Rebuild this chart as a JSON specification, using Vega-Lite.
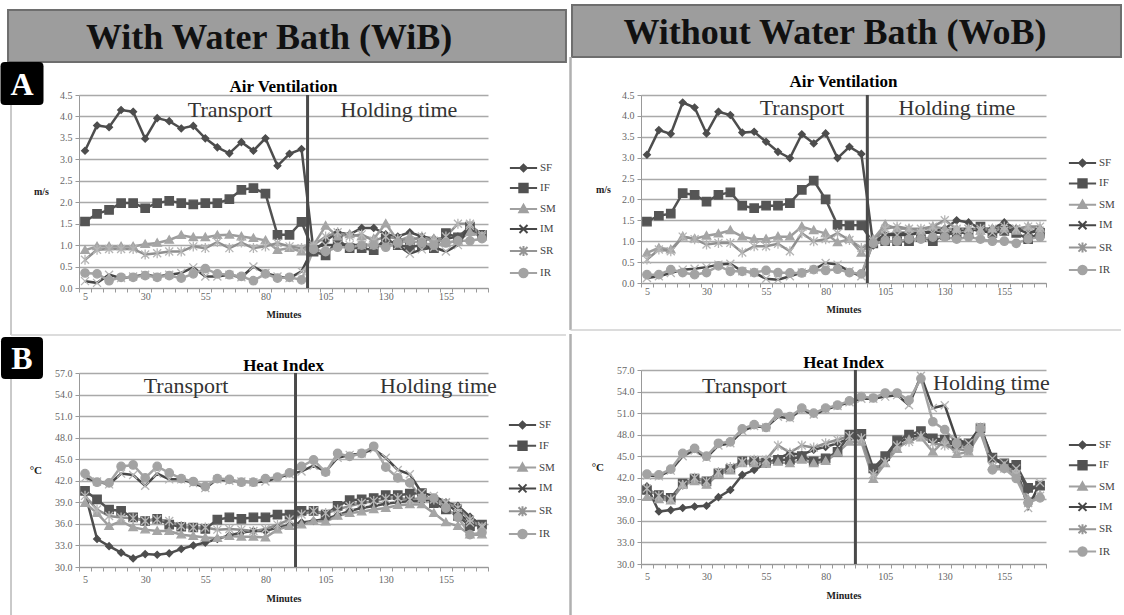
{
  "$schema": "https://vega.github.io/schema/vega-lite/v6.json",
  "padding": {"left": 0, "top": 4, "right": 0, "bottom": 0},
  "background": "white",
  "config": {"view": {"stroke": null}, "font": "Liberation Serif", "axis": {"labelOverlap": false}},
  "datasets": {
    "av_wib": [
      {"m":5,"SF":3.20,"IF":1.55,"SM":0.88,"IM":0.16,"SR":0.66,"IR":0.35},
      {"m":10,"SF":3.79,"IF":1.73,"SM":0.97,"IM":0.12,"SR":0.89,"IR":0.33},
      {"m":15,"SF":3.75,"IF":1.82,"SM":0.97,"IM":0.31,"SR":0.91,"IR":0.17},
      {"m":20,"SF":4.15,"IF":1.98,"SM":0.97,"IM":0.23,"SR":0.91,"IR":0.25},
      {"m":25,"SF":4.11,"IF":1.98,"SM":0.97,"IM":0.27,"SR":0.91,"IR":0.25},
      {"m":30,"SF":3.48,"IF":1.86,"SM":1.02,"IM":0.31,"SR":0.78,"IR":0.29},
      {"m":35,"SF":3.96,"IF":1.98,"SM":1.05,"IM":0.27,"SR":0.81,"IR":0.25},
      {"m":40,"SF":3.89,"IF":2.03,"SM":1.12,"IM":0.31,"SR":0.85,"IR":0.29},
      {"m":45,"SF":3.72,"IF":1.98,"SM":1.23,"IM":0.35,"SR":0.85,"IR":0.23},
      {"m":50,"SF":3.78,"IF":1.95,"SM":1.18,"IM":0.48,"SR":0.97,"IR":0.33},
      {"m":55,"SF":3.49,"IF":1.98,"SM":1.18,"IM":0.27,"SR":0.93,"IR":0.45},
      {"m":60,"SF":3.28,"IF":1.98,"SM":1.23,"IM":0.27,"SR":1.07,"IR":0.33},
      {"m":65,"SF":3.14,"IF":2.07,"SM":1.24,"IM":0.31,"SR":0.93,"IR":0.31},
      {"m":70,"SF":3.40,"IF":2.29,"SM":1.20,"IM":0.25,"SR":1.06,"IR":0.27},
      {"m":75,"SF":3.20,"IF":2.33,"SM":1.16,"IM":0.50,"SR":0.93,"IR":0.17},
      {"m":80,"SF":3.49,"IF":2.20,"SM":1.11,"IM":0.35,"SR":0.97,"IR":0.33},
      {"m":85,"SF":2.85,"IF":1.24,"SM":0.88,"IM":0.27,"SR":1.05,"IR":0.23},
      {"m":90,"SF":3.13,"IF":1.24,"SM":0.93,"IM":0.23,"SR":0.97,"IR":0.25},
      {"m":95,"SF":3.24,"IF":1.54,"SM":0.85,"IM":0.39,"SR":0.93,"IR":0.19},
      {"m":100,"SF":0.85,"IF":0.85,"SM":1.00,"IM":0.95,"SR":1.00,"IR":0.90},
      {"m":105,"SF":1.10,"IF":0.76,"SM":1.45,"IM":1.00,"SR":1.20,"IR":0.85},
      {"m":110,"SF":1.30,"IF":1.12,"SM":1.20,"IM":1.00,"SR":1.30,"IR":0.95},
      {"m":115,"SF":1.25,"IF":0.93,"SM":1.25,"IM":1.00,"SR":1.20,"IR":0.95},
      {"m":120,"SF":1.40,"IF":0.93,"SM":1.20,"IM":1.00,"SR":1.25,"IR":1.00},
      {"m":125,"SF":1.40,"IF":0.88,"SM":1.15,"IM":1.00,"SR":1.10,"IR":1.00},
      {"m":130,"SF":1.25,"IF":1.15,"SM":1.50,"IM":1.00,"SR":1.20,"IR":0.95},
      {"m":135,"SF":1.20,"IF":1.00,"SM":1.10,"IM":1.00,"SR":1.15,"IR":1.05},
      {"m":140,"SF":1.30,"IF":0.95,"SM":1.20,"IM":0.80,"SR":1.10,"IR":1.10},
      {"m":145,"SF":1.20,"IF":1.00,"SM":1.10,"IM":0.90,"SR":1.20,"IR":1.05},
      {"m":150,"SF":1.15,"IF":0.93,"SM":1.15,"IM":0.95,"SR":1.10,"IR":1.00},
      {"m":155,"SF":1.15,"IF":1.28,"SM":1.05,"IM":0.85,"SR":1.20,"IR":1.05},
      {"m":160,"SF":1.20,"IF":1.18,"SM":1.10,"IM":1.00,"SR":1.50,"IR":1.10},
      {"m":165,"SF":1.35,"IF":1.43,"SM":1.30,"IM":1.45,"SR":1.50,"IR":1.10},
      {"m":170,"SF":1.20,"IF":1.24,"SM":1.20,"IM":1.25,"SR":1.20,"IR":1.15}
    ],
    "av_wob": [
      {"m":5,"SF":3.07,"IF":1.47,"SM":0.72,"IM":0.12,"SR":0.56,"IR":0.20},
      {"m":10,"SF":3.66,"IF":1.61,"SM":0.84,"IM":0.16,"SR":0.80,"IR":0.20},
      {"m":15,"SF":3.57,"IF":1.66,"SM":0.80,"IM":0.24,"SR":0.76,"IR":0.32},
      {"m":20,"SF":4.32,"IF":2.15,"SM":1.11,"IM":0.32,"SR":1.11,"IR":0.25},
      {"m":25,"SF":4.20,"IF":2.11,"SM":1.06,"IM":0.34,"SR":1.05,"IR":0.20},
      {"m":30,"SF":3.58,"IF":1.95,"SM":1.13,"IM":0.38,"SR":0.92,"IR":0.25},
      {"m":35,"SF":4.10,"IF":2.11,"SM":1.18,"IM":0.44,"SR":0.96,"IR":0.41},
      {"m":40,"SF":4.02,"IF":2.17,"SM":1.26,"IM":0.46,"SR":0.96,"IR":0.28},
      {"m":45,"SF":3.60,"IF":1.85,"SM":1.11,"IM":0.28,"SR":0.73,"IR":0.28},
      {"m":50,"SF":3.62,"IF":1.79,"SM":1.05,"IM":0.25,"SR":0.88,"IR":0.25},
      {"m":55,"SF":3.38,"IF":1.85,"SM":1.05,"IM":0.10,"SR":0.88,"IR":0.30},
      {"m":60,"SF":3.14,"IF":1.85,"SM":1.11,"IM":0.08,"SR":0.94,"IR":0.25},
      {"m":65,"SF":2.99,"IF":1.91,"SM":1.11,"IM":0.16,"SR":0.76,"IR":0.24},
      {"m":70,"SF":3.56,"IF":2.23,"SM":1.35,"IM":0.25,"SR":1.19,"IR":0.24},
      {"m":75,"SF":3.34,"IF":2.45,"SM":1.26,"IM":0.32,"SR":1.00,"IR":0.32},
      {"m":80,"SF":3.58,"IF":2.00,"SM":1.19,"IM":0.48,"SR":1.05,"IR":0.30},
      {"m":85,"SF":2.99,"IF":1.39,"SM":0.97,"IM":0.44,"SR":1.19,"IR":0.33},
      {"m":90,"SF":3.26,"IF":1.38,"SM":1.05,"IM":0.28,"SR":1.03,"IR":0.25},
      {"m":95,"SF":3.09,"IF":1.38,"SM":0.72,"IM":0.16,"SR":0.84,"IR":0.22},
      {"m":100,"SF":0.90,"IF":0.95,"SM":1.05,"IM":1.00,"SR":1.00,"IR":0.95},
      {"m":105,"SF":1.15,"IF":1.00,"SM":1.40,"IM":1.15,"SR":1.30,"IR":1.00},
      {"m":110,"SF":1.20,"IF":1.00,"SM":1.30,"IM":1.15,"SR":1.35,"IR":1.00},
      {"m":115,"SF":1.20,"IF":1.00,"SM":1.30,"IM":1.15,"SR":1.30,"IR":1.05},
      {"m":120,"SF":1.20,"IF":1.10,"SM":1.25,"IM":1.20,"SR":1.30,"IR":1.05},
      {"m":125,"SF":1.25,"IF":1.00,"SM":1.35,"IM":1.20,"SR":1.35,"IR":1.10},
      {"m":130,"SF":1.30,"IF":1.15,"SM":1.30,"IM":1.20,"SR":1.50,"IR":1.10},
      {"m":135,"SF":1.50,"IF":1.20,"SM":1.30,"IM":1.25,"SR":1.30,"IR":1.05},
      {"m":140,"SF":1.45,"IF":1.20,"SM":1.30,"IM":1.30,"SR":1.30,"IR":1.10},
      {"m":145,"SF":1.30,"IF":1.35,"SM":1.25,"IM":1.25,"SR":1.30,"IR":1.05},
      {"m":150,"SF":1.30,"IF":1.20,"SM":1.30,"IM":1.20,"SR":1.30,"IR":1.00},
      {"m":155,"SF":1.45,"IF":1.25,"SM":1.30,"IM":1.25,"SR":1.35,"IR":1.00},
      {"m":160,"SF":1.30,"IF":1.20,"SM":1.25,"IM":1.30,"SR":1.30,"IR":0.95},
      {"m":165,"SF":1.20,"IF":1.05,"SM":1.35,"IM":1.20,"SR":1.35,"IR":1.05},
      {"m":170,"SF":1.30,"IF":1.20,"SM":1.30,"IM":1.25,"SR":1.35,"IR":1.10}
    ],
    "hi_wib": [
      {"m":5,"SF":40.3,"IF":40.6,"SM":38.9,"IM":42.4,"SR":39.9,"IR":43.0},
      {"m":10,"SF":33.9,"IF":39.4,"SM":37.5,"IM":41.9,"SR":38.0,"IR":41.8},
      {"m":15,"SF":32.9,"IF":38.0,"SM":35.7,"IM":41.5,"SR":37.1,"IR":41.7},
      {"m":20,"SF":32.0,"IF":37.8,"SM":36.4,"IM":43.0,"SR":36.9,"IR":44.0},
      {"m":25,"SF":31.2,"IF":36.9,"SM":35.5,"IM":42.8,"SR":36.8,"IR":44.2},
      {"m":30,"SF":31.8,"IF":36.4,"SM":35.2,"IM":41.3,"SR":36.4,"IR":42.4},
      {"m":35,"SF":31.7,"IF":36.7,"SM":35.0,"IM":43.0,"SR":36.6,"IR":44.0},
      {"m":40,"SF":31.9,"IF":35.9,"SM":35.0,"IM":42.2,"SR":36.4,"IR":43.1},
      {"m":45,"SF":32.5,"IF":35.6,"SM":34.5,"IM":42.2,"SR":35.7,"IR":42.3},
      {"m":50,"SF":33.0,"IF":35.5,"SM":34.3,"IM":41.7,"SR":35.5,"IR":41.9},
      {"m":55,"SF":33.4,"IF":35.3,"SM":34.1,"IM":41.0,"SR":35.5,"IR":41.2},
      {"m":60,"SF":33.9,"IF":36.6,"SM":34.0,"IM":42.2,"SR":35.2,"IR":42.3},
      {"m":65,"SF":34.4,"IF":36.9,"SM":34.3,"IM":42.0,"SR":35.3,"IR":42.2},
      {"m":70,"SF":34.8,"IF":36.7,"SM":34.2,"IM":41.9,"SR":35.2,"IR":41.8},
      {"m":75,"SF":35.0,"IF":36.9,"SM":34.2,"IM":41.8,"SR":35.0,"IR":41.8},
      {"m":80,"SF":35.0,"IF":36.9,"SM":34.1,"IM":41.9,"SR":35.3,"IR":42.3},
      {"m":85,"SF":35.5,"IF":37.3,"SM":35.2,"IM":42.4,"SR":35.9,"IR":42.5},
      {"m":90,"SF":35.8,"IF":37.3,"SM":35.7,"IM":42.9,"SR":36.6,"IR":43.1},
      {"m":95,"SF":36.2,"IF":37.8,"SM":35.9,"IM":43.3,"SR":37.3,"IR":44.0},
      {"m":100,"SF":36.4,"IF":37.8,"SM":36.4,"IM":44.1,"SR":37.8,"IR":44.9},
      {"m":105,"SF":36.7,"IF":37.3,"SM":36.3,"IM":43.3,"SR":37.5,"IR":43.2},
      {"m":110,"SF":37.2,"IF":38.5,"SM":37.1,"IM":45.2,"SR":38.0,"IR":45.8},
      {"m":115,"SF":37.8,"IF":39.3,"SM":37.5,"IM":45.6,"SR":38.5,"IR":45.4},
      {"m":120,"SF":38.2,"IF":39.4,"SM":37.7,"IM":45.8,"SR":38.9,"IR":45.8},
      {"m":125,"SF":38.5,"IF":39.6,"SM":38.0,"IM":46.4,"SR":39.2,"IR":46.8},
      {"m":130,"SF":38.8,"IF":40.0,"SM":38.2,"IM":45.2,"SR":39.5,"IR":43.9},
      {"m":135,"SF":39.0,"IF":40.0,"SM":38.6,"IM":43.5,"SR":39.6,"IR":42.4},
      {"m":140,"SF":39.2,"IF":40.2,"SM":38.7,"IM":42.9,"SR":39.4,"IR":41.7},
      {"m":145,"SF":39.2,"IF":40.3,"SM":38.7,"IM":40.3,"SR":39.6,"IR":39.6},
      {"m":150,"SF":39.4,"IF":38.9,"SM":37.5,"IM":39.9,"SR":39.4,"IR":39.6},
      {"m":155,"SF":39.0,"IF":38.0,"SM":36.2,"IM":39.0,"SR":38.9,"IR":38.2},
      {"m":160,"SF":38.5,"IF":37.1,"SM":35.7,"IM":37.5,"SR":38.2,"IR":36.9},
      {"m":165,"SF":37.0,"IF":35.7,"SM":34.5,"IM":36.2,"SR":36.6,"IR":34.5},
      {"m":170,"SF":35.8,"IF":35.9,"SM":34.5,"IM":35.7,"SR":35.5,"IR":34.8}
    ],
    "hi_wob": [
      {"m":5,"SF":40.8,"IF":40.3,"SM":39.3,"IM":42.3,"SR":40.5,"IR":42.5},
      {"m":10,"SF":37.3,"IF":39.6,"SM":39.0,"IM":42.2,"SR":39.5,"IR":42.4},
      {"m":15,"SF":37.5,"IF":39.2,"SM":38.8,"IM":43.0,"SR":39.0,"IR":43.2},
      {"m":20,"SF":37.8,"IF":41.2,"SM":41.0,"IM":45.0,"SR":41.0,"IR":45.4},
      {"m":25,"SF":38.0,"IF":41.9,"SM":41.5,"IM":45.8,"SR":42.0,"IR":46.1},
      {"m":30,"SF":38.1,"IF":41.5,"SM":41.0,"IM":44.8,"SR":41.5,"IR":45.0},
      {"m":35,"SF":39.3,"IF":42.6,"SM":42.5,"IM":46.5,"SR":42.8,"IR":46.8},
      {"m":40,"SF":40.3,"IF":43.2,"SM":43.0,"IM":46.8,"SR":43.5,"IR":47.0},
      {"m":45,"SF":42.4,"IF":44.3,"SM":44.0,"IM":48.5,"SR":44.2,"IR":48.8},
      {"m":50,"SF":43.1,"IF":44.3,"SM":44.0,"IM":49.2,"SR":44.5,"IR":49.4},
      {"m":55,"SF":44.0,"IF":44.1,"SM":44.0,"IM":49.0,"SR":44.5,"IR":49.0},
      {"m":60,"SF":44.7,"IF":44.5,"SM":44.2,"IM":50.5,"SR":46.5,"IR":51.0},
      {"m":65,"SF":45.4,"IF":44.5,"SM":44.0,"IM":50.3,"SR":45.5,"IR":50.5},
      {"m":70,"SF":45.2,"IF":45.0,"SM":44.5,"IM":51.5,"SR":46.5,"IR":51.7},
      {"m":75,"SF":45.9,"IF":44.3,"SM":44.0,"IM":50.8,"SR":46.2,"IR":51.0},
      {"m":80,"SF":46.3,"IF":44.7,"SM":44.3,"IM":51.5,"SR":46.8,"IR":51.7},
      {"m":85,"SF":46.8,"IF":45.6,"SM":45.5,"IM":52.0,"SR":47.3,"IR":52.1},
      {"m":90,"SF":47.5,"IF":48.0,"SM":47.0,"IM":52.5,"SR":47.8,"IR":52.7},
      {"m":95,"SF":47.5,"IF":48.1,"SM":47.0,"IM":53.0,"SR":47.5,"IR":53.3},
      {"m":100,"SF":43.0,"IF":43.3,"SM":41.8,"IM":53.0,"SR":42.5,"IR":53.1},
      {"m":105,"SF":44.5,"IF":45.0,"SM":44.0,"IM":53.3,"SR":44.2,"IR":53.8},
      {"m":110,"SF":46.8,"IF":47.2,"SM":46.0,"IM":53.5,"SR":46.5,"IR":53.8},
      {"m":115,"SF":47.6,"IF":48.0,"SM":47.3,"IM":52.1,"SR":47.0,"IR":52.8},
      {"m":120,"SF":48.0,"IF":48.5,"SM":47.6,"IM":56.2,"SR":47.8,"IR":55.8},
      {"m":125,"SF":47.3,"IF":47.5,"SM":45.6,"IM":51.7,"SR":46.8,"IR":49.8},
      {"m":130,"SF":47.0,"IF":47.3,"SM":47.2,"IM":52.1,"SR":46.5,"IR":48.7},
      {"m":135,"SF":46.5,"IF":46.8,"SM":45.3,"IM":47.3,"SR":46.0,"IR":46.8},
      {"m":140,"SF":46.5,"IF":46.8,"SM":45.6,"IM":46.8,"SR":45.8,"IR":45.9},
      {"m":145,"SF":48.6,"IF":48.9,"SM":48.3,"IM":49.1,"SR":49.0,"IR":48.9},
      {"m":150,"SF":44.7,"IF":44.8,"SM":43.6,"IM":44.7,"SR":43.5,"IR":43.1},
      {"m":155,"SF":43.8,"IF":44.0,"SM":43.6,"IM":44.0,"SR":43.3,"IR":43.3},
      {"m":160,"SF":43.3,"IF":43.8,"SM":42.8,"IM":43.3,"SR":42.5,"IR":41.9},
      {"m":165,"SF":40.3,"IF":40.6,"SM":39.0,"IM":37.8,"SR":38.5,"IR":38.5},
      {"m":170,"SF":40.8,"IF":40.9,"SM":39.6,"IM":41.3,"SR":39.5,"IR":39.2}
    ]
  },
  "concat": [
    {
      "concat": [
        {
          "width": 409, "height": 193,
          "resolve": {"scale": {"shape": "independent", "fill": "independent", "stroke": "independent"}},
          "layer": [
            {
              "data": {"name": "av_wib"},
              "transform": [{"fold": ["SF", "IF", "SM", "IM", "SR", "IR"], "as": ["series", "v"]}],
              "mark": {"type": "line", "strokeWidth": 2.5},
              "encoding": {
                "x": {"field": "m", "type": "quantitative", "scale": {"domain": [2.5, 172.5], "nice": false, "zero": false},
                  "axis": {"values": [2.5,7.5,12.5,17.5,22.5,27.5,32.5,37.5,42.5,47.5,52.5,57.5,62.5,67.5,72.5,77.5,82.5,87.5,92.5,97.5,102.5,107.5,112.5,117.5,122.5,127.5,132.5,137.5,142.5,147.5,152.5,157.5,162.5,167.5,172.5], "tickCount": 35,
                    "labelExpr": "(datum.value - 2.5) % 25 === 0 && datum.value < 170 ? format(datum.value + 2.5, 'd') : ''",
                    "labelOffset": 6, "labelOverlap": false, "labelFlush": false, "grid": false, "tickSize": 4, "tickColor": "#999999", "domainColor": "#999999",
                    "labelColor": "#666666", "labelFontSize": 10, "labelPadding": -1, "title": "Minutes", "titleFontWeight": "bold", "titleFontSize": 10, "titleColor": "#222222", "titlePadding": 8}},
                "y": {"field": "v", "type": "quantitative", "scale": {"domain": [0, 4.5], "nice": false, "zero": false},
                  "axis": {"values": [0,0.5,1,1.5,2,2.5,3,3.5,4,4.5], "tickCount": 10, "format": ".1f", "labelOverlap": false, "grid": true, "gridColor": "#a9a9a9", "gridWidth": 1.3, "gridOpacity": 1,
                    "tickSize": 4, "tickColor": "#999999", "domainColor": "#999999", "labelColor": "#666666", "labelFontSize": 10, "labelPadding": 3,
                    "title": "m/s", "titleAngle": 0, "titleAlign": "right", "titleBaseline": "middle", "titlePadding": 11, "titleFontWeight": "bold", "titleFontSize": 10, "titleColor": "#222222"}},
                "color": {"field": "series", "type": "nominal", "scale": {"domain": ["SF", "IF", "SM", "IM", "SR", "IR"], "range": ["#4d4d4d", "#525252", "#9c9c9c", "#474747", "#8f8f8f", "#a3a3a3"]}, "legend": null}
              }
            },
            {
              "data": {"name": "av_wib"},
              "transform": [{"fold": ["SF", "IF", "SM", "IM", "SR", "IR"], "as": ["series", "v"]}],
              "mark": {"type": "point", "filled": true, "size": 64, "opacity": 1, "strokeWidth": 1.3},
              "encoding": {
                "x": {"field": "m", "type": "quantitative"},
                "y": {"field": "v", "type": "quantitative"},
                "shape": {"field": "series", "type": "nominal", "scale": {"domain": ["SF", "IF", "SM", "IM", "SR", "IR"], "range": ["M0,-0.85L0.85,0L0,0.85L-0.85,0Z", "M-1.05,-1.05L1.05,-1.05L1.05,1.05L-1.05,1.05Z", "M0,-1.05L1.05,0.8L-1.05,0.8Z", "M-1,-1L1,1M-1,1L1,-1", "M-1,-1L1,1M-1,1L1,-1M0,-1.25L0,1.25", "M1.05,0A1.05,1.05 0 1,1 -1.05,0A1.05,1.05 0 1,1 1.05,0Z"]}, "legend": null},
                "fill": {"field": "series", "type": "nominal", "scale": {"domain": ["SF", "IF", "SM", "IM", "SR", "IR"], "range": ["#4d4d4d", "#555555", "#a5a5a5", "#b5b5b5", "#b5b5b5", "#a3a3a3"]}, "legend": null},
                "stroke": {"field": "series", "type": "nominal", "scale": {"domain": ["SF", "IF", "SM", "IM", "SR", "IR"], "range": ["#4d4d4d", "#555555", "#a5a5a5", "#b5b5b5", "#b5b5b5", "#a3a3a3"]}, "legend": null}
              }
            },
            {
              "data": {"values": []},
              "mark": {"type": "point", "filled": true, "size": 64, "opacity": 1},
              "encoding": {
                "shape": {"field": "series", "type": "nominal", "scale": {"domain": ["SF", "IF", "SM", "IM", "SR", "IR"], "range": ["M-3.4,0L3.4,0M0,-0.85L0.85,0L0,0.85L-0.85,0Z", "M-3.4,0L3.4,0M-1.05,-1.05L1.05,-1.05L1.05,1.05L-1.05,1.05Z", "M-3.4,0L3.4,0M0,-1.05L1.05,0.8L-1.05,0.8Z", "M-3.4,0L3.4,0M-1,-1L1,1M-1,1L1,-1", "M-3.4,0L3.4,0M-1,-1L1,1M-1,1L1,-1M0,-1.25L0,1.25", "M-3.4,0L3.4,0M1.05,0A1.05,1.05 0 1,1 -1.05,0A1.05,1.05 0 1,1 1.05,0Z"]},
                  "legend": {"title": null, "orient": "none", "legendX": 439, "legendY": 67.5, "padding": 0, "symbolSize": 64, "symbolStrokeWidth": 2, "labelFont": "Liberation Serif", "labelFontSize": 11, "labelColor": "#444444", "labelOffset": 11, "rowPadding": 4}},
                "fill": {"field": "series", "type": "nominal", "scale": {"domain": ["SF", "IF", "SM", "IM", "SR", "IR"], "range": ["#4d4d4d", "#525252", "#a0a0a0", "#474747", "#959595", "#a3a3a3"]}},
                "stroke": {"field": "series", "type": "nominal", "scale": {"domain": ["SF", "IF", "SM", "IM", "SR", "IR"], "range": ["#4d4d4d", "#525252", "#a0a0a0", "#474747", "#959595", "#a3a3a3"]}}
              }
            },
            {"data": {"values": [{}]}, "mark": {"type": "rule", "color": "#4a4a4a", "strokeWidth": 3}, "encoding": {"x": {"datum": 97.5, "type": "quantitative"}}},
            {"data": {"values": [{}]}, "mark": {"type": "rect", "color": "#9d9d9d", "stroke": "#6e6e6e", "strokeWidth": 2, "clip": false}, "encoding": {"x": {"datum": -27.0, "type": "quantitative"}, "x2": {"datum": 204.9}, "y": {"datum": 6.482, "type": "quantitative"}, "y2": {"datum": 5.269}}},
            {"data": {"values": [{}]}, "mark": {"type": "text", "text": "With Water Bath (WiB)", "font": "Liberation Serif", "fontSize": 36, "fontWeight": "bold", "color": "#111111", "align": "center", "baseline": "middle", "clip": false}, "encoding": {"x": {"datum": 81.5, "type": "quantitative"}, "y": {"datum": 5.83, "type": "quantitative"}}},
            {"data": {"values": [{}]}, "mark": {"type": "text", "text": "Air Ventilation", "font": "Liberation Serif", "fontSize": 17, "fontWeight": "bold", "color": "#000000", "align": "center", "baseline": "alphabetic", "clip": false}, "encoding": {"x": {"datum": 87.5, "type": "quantitative"}, "y": {"datum": 4.57, "type": "quantitative"}}},
            {"data": {"values": [{}]}, "mark": {"type": "rule", "color": "#b8b8b8", "strokeWidth": 1.5, "clip": false}, "encoding": {"x": {"datum": -25.76, "type": "quantitative"}, "y": {"datum": 5.25, "type": "quantitative"}, "y2": {"datum": -1.096}}},
            {"data": {"values": [{}]}, "mark": {"type": "rule", "color": "#d0d0d0", "strokeWidth": 1.5, "clip": false}, "encoding": {"x": {"datum": -25.76, "type": "quantitative"}, "x2": {"datum": 204.9}, "y": {"datum": -1.096, "type": "quantitative"}}},
            {"data": {"values": [{}]}, "mark": {"type": "text", "text": "Transport", "font": "Liberation Serif", "fontSize": 22, "color": "#333333", "align": "center", "baseline": "alphabetic"}, "encoding": {"x": {"datum": 65.3, "type": "quantitative"}, "y": {"datum": 3.99, "type": "quantitative"}}},
            {"data": {"values": [{}]}, "mark": {"type": "text", "text": "Holding time", "font": "Liberation Serif", "fontSize": 22, "color": "#333333", "align": "center", "baseline": "alphabetic"}, "encoding": {"x": {"datum": 135.5, "type": "quantitative"}, "y": {"datum": 3.99, "type": "quantitative"}}},
            {"data": {"values": [{}]}, "mark": {"type": "point", "shape": "M-0.8,-1L0.8,-1Q1,-1 1,-0.8L1,0.8Q1,1 0.8,1L-0.8,1Q-1,1 -1,0.8L-1,-0.8Q-1,-1 -0.8,-1Z", "size": 1849, "filled": true, "color": "#000000", "opacity": 1, "clip": false}, "encoding": {"x": {"datum": -21.19, "type": "quantitative"}, "y": {"datum": 4.768, "type": "quantitative"}}},
            {"data": {"values": [{}]}, "mark": {"type": "text", "text": "A", "font": "Liberation Serif", "fontSize": 32, "fontWeight": "bold", "color": "#ffffff", "align": "center", "baseline": "middle", "clip": false}, "encoding": {"x": {"datum": -21.19, "type": "quantitative"}, "y": {"datum": 4.74, "type": "quantitative"}}}
          ]
        },
        {
          "width": 409, "height": 194,
          "resolve": {"scale": {"shape": "independent", "fill": "independent", "stroke": "independent"}},
          "layer": [
            {
              "data": {"name": "hi_wib"},
              "transform": [{"fold": ["SF", "IF", "SM", "IM", "SR", "IR"], "as": ["series", "v"]}],
              "mark": {"type": "line", "strokeWidth": 2.5},
              "encoding": {
                "x": {"field": "m", "type": "quantitative", "scale": {"domain": [2.5, 172.5], "nice": false, "zero": false},
                  "axis": {"values": [2.5,7.5,12.5,17.5,22.5,27.5,32.5,37.5,42.5,47.5,52.5,57.5,62.5,67.5,72.5,77.5,82.5,87.5,92.5,97.5,102.5,107.5,112.5,117.5,122.5,127.5,132.5,137.5,142.5,147.5,152.5,157.5,162.5,167.5,172.5], "tickCount": 35,
                    "labelExpr": "(datum.value - 2.5) % 25 === 0 && datum.value < 170 ? format(datum.value + 2.5, 'd') : ''",
                    "labelOffset": 6, "labelOverlap": false, "labelFlush": false, "grid": false, "tickSize": 4, "tickColor": "#999999", "domainColor": "#999999",
                    "labelColor": "#666666", "labelFontSize": 10, "labelPadding": 3, "title": "Minutes", "titleFontWeight": "bold", "titleFontSize": 10, "titleColor": "#222222", "titlePadding": 9}},
                "y": {"field": "v", "type": "quantitative", "scale": {"domain": [30, 57], "nice": false, "zero": false},
                  "axis": {"values": [30,33,36,39,42,45,48,51,54,57], "tickCount": 10, "format": ".1f", "labelOverlap": false, "grid": true, "gridColor": "#a9a9a9", "gridWidth": 1.3, "gridOpacity": 1,
                    "tickSize": 4, "tickColor": "#999999", "domainColor": "#999999", "labelColor": "#666666", "labelFontSize": 10, "labelPadding": 3,
                    "title": "°C", "titleAngle": 0, "titleAlign": "right", "titleBaseline": "middle", "titlePadding": 13, "titleFontWeight": "bold", "titleFontSize": 11, "titleColor": "#222222"}},
                "color": {"field": "series", "type": "nominal", "scale": {"domain": ["SF", "IF", "SM", "IM", "SR", "IR"], "range": ["#4d4d4d", "#525252", "#9c9c9c", "#474747", "#8f8f8f", "#a3a3a3"]}, "legend": null}
              }
            },
            {
              "data": {"name": "hi_wib"},
              "transform": [{"fold": ["SF", "IF", "SM", "IM", "SR", "IR"], "as": ["series", "v"]}],
              "mark": {"type": "point", "filled": true, "size": 64, "opacity": 1, "strokeWidth": 1.3},
              "encoding": {
                "x": {"field": "m", "type": "quantitative"},
                "y": {"field": "v", "type": "quantitative"},
                "shape": {"field": "series", "type": "nominal", "scale": {"domain": ["SF", "IF", "SM", "IM", "SR", "IR"], "range": ["M0,-0.85L0.85,0L0,0.85L-0.85,0Z", "M-1.05,-1.05L1.05,-1.05L1.05,1.05L-1.05,1.05Z", "M0,-1.05L1.05,0.8L-1.05,0.8Z", "M-1,-1L1,1M-1,1L1,-1", "M-1,-1L1,1M-1,1L1,-1M0,-1.25L0,1.25", "M1.05,0A1.05,1.05 0 1,1 -1.05,0A1.05,1.05 0 1,1 1.05,0Z"]}, "legend": null},
                "fill": {"field": "series", "type": "nominal", "scale": {"domain": ["SF", "IF", "SM", "IM", "SR", "IR"], "range": ["#4d4d4d", "#555555", "#a5a5a5", "#b5b5b5", "#b5b5b5", "#a3a3a3"]}, "legend": null},
                "stroke": {"field": "series", "type": "nominal", "scale": {"domain": ["SF", "IF", "SM", "IM", "SR", "IR"], "range": ["#4d4d4d", "#555555", "#a5a5a5", "#b5b5b5", "#b5b5b5", "#a3a3a3"]}, "legend": null}
              }
            },
            {
              "data": {"values": []},
              "mark": {"type": "point", "filled": true, "size": 64, "opacity": 1},
              "encoding": {
                "shape": {"field": "series", "type": "nominal", "scale": {"domain": ["SF", "IF", "SM", "IM", "SR", "IR"], "range": ["M-3.4,0L3.4,0M0,-0.85L0.85,0L0,0.85L-0.85,0Z", "M-3.4,0L3.4,0M-1.05,-1.05L1.05,-1.05L1.05,1.05L-1.05,1.05Z", "M-3.4,0L3.4,0M0,-1.05L1.05,0.8L-1.05,0.8Z", "M-3.4,0L3.4,0M-1,-1L1,1M-1,1L1,-1", "M-3.4,0L3.4,0M-1,-1L1,1M-1,1L1,-1M0,-1.25L0,1.25", "M-3.4,0L3.4,0M1.05,0A1.05,1.05 0 1,1 -1.05,0A1.05,1.05 0 1,1 1.05,0Z"]},
                  "legend": {"title": null, "orient": "none", "legendX": 438, "legendY": 46.5, "padding": 0, "symbolSize": 64, "symbolStrokeWidth": 2, "labelFont": "Liberation Serif", "labelFontSize": 11, "labelColor": "#444444", "labelOffset": 11, "rowPadding": 4.8}},
                "fill": {"field": "series", "type": "nominal", "scale": {"domain": ["SF", "IF", "SM", "IM", "SR", "IR"], "range": ["#4d4d4d", "#525252", "#a0a0a0", "#474747", "#959595", "#a3a3a3"]}},
                "stroke": {"field": "series", "type": "nominal", "scale": {"domain": ["SF", "IF", "SM", "IM", "SR", "IR"], "range": ["#4d4d4d", "#525252", "#a0a0a0", "#474747", "#959595", "#a3a3a3"]}}
              }
            },
            {"data": {"values": [{}]}, "mark": {"type": "rule", "color": "#4a4a4a", "strokeWidth": 3}, "encoding": {"x": {"datum": 92.5, "type": "quantitative"}}},
            {"data": {"values": [{}]}, "mark": {"type": "text", "text": "Heat Index", "font": "Liberation Serif", "fontSize": 17, "fontWeight": "bold", "color": "#000000", "align": "center", "baseline": "alphabetic", "clip": false}, "encoding": {"x": {"datum": 87.5, "type": "quantitative"}, "y": {"datum": 57.28, "type": "quantitative"}}},
            {"data": {"values": [{}]}, "mark": {"type": "rule", "color": "#b8b8b8", "strokeWidth": 1.5, "clip": false}, "encoding": {"x": {"datum": -25.76, "type": "quantitative"}, "y": {"datum": 62.0, "type": "quantitative"}, "y2": {"datum": 22.7}}},
            {"data": {"values": [{}]}, "mark": {"type": "text", "text": "Transport", "font": "Liberation Serif", "fontSize": 22, "color": "#333333", "align": "center", "baseline": "alphabetic"}, "encoding": {"x": {"datum": 47.0, "type": "quantitative"}, "y": {"datum": 54.22, "type": "quantitative"}}},
            {"data": {"values": [{}]}, "mark": {"type": "text", "text": "Holding time", "font": "Liberation Serif", "fontSize": 22, "color": "#333333", "align": "center", "baseline": "alphabetic"}, "encoding": {"x": {"datum": 151.9, "type": "quantitative"}, "y": {"datum": 54.22, "type": "quantitative"}}},
            {"data": {"values": [{}]}, "mark": {"type": "point", "shape": "M-0.8,-1L0.8,-1Q1,-1 1,-0.8L1,0.8Q1,1 0.8,1L-0.8,1Q-1,1 -1,0.8L-1,-0.8Q-1,-1 -0.8,-1Z", "size": 1764, "filled": true, "color": "#000000", "opacity": 1, "clip": false}, "encoding": {"x": {"datum": -21.19, "type": "quantitative"}, "y": {"datum": 59.09, "type": "quantitative"}}},
            {"data": {"values": [{}]}, "mark": {"type": "text", "text": "B", "font": "Liberation Serif", "fontSize": 32, "fontWeight": "bold", "color": "#ffffff", "align": "center", "baseline": "middle", "clip": false}, "encoding": {"x": {"datum": -21.19, "type": "quantitative"}, "y": {"datum": 58.92, "type": "quantitative"}}}
          ]
        }
      ],
      "columns": 1, "align": "none", "spacing": 0
    },
    {
      "concat": [
        {
          "width": 405, "height": 188,
          "resolve": {"scale": {"shape": "independent", "fill": "independent", "stroke": "independent"}},
          "layer": [
            {
              "data": {"name": "av_wob"},
              "transform": [{"fold": ["SF", "IF", "SM", "IM", "SR", "IR"], "as": ["series", "v"]}],
              "mark": {"type": "line", "strokeWidth": 2.5},
              "encoding": {
                "x": {"field": "m", "type": "quantitative", "scale": {"domain": [2.5, 172.5], "nice": false, "zero": false},
                  "axis": {"values": [2.5,7.5,12.5,17.5,22.5,27.5,32.5,37.5,42.5,47.5,52.5,57.5,62.5,67.5,72.5,77.5,82.5,87.5,92.5,97.5,102.5,107.5,112.5,117.5,122.5,127.5,132.5,137.5,142.5,147.5,152.5,157.5,162.5,167.5,172.5], "tickCount": 35,
                    "labelExpr": "(datum.value - 2.5) % 25 === 0 && datum.value < 170 ? format(datum.value + 2.5, 'd') : ''",
                    "labelOffset": 6, "labelOverlap": false, "labelFlush": false, "grid": false, "tickSize": 4, "tickColor": "#999999", "domainColor": "#999999",
                    "labelColor": "#666666", "labelFontSize": 10, "labelPadding": -1, "title": "Minutes", "titleFontWeight": "bold", "titleFontSize": 10, "titleColor": "#222222", "titlePadding": 8}},
                "y": {"field": "v", "type": "quantitative", "scale": {"domain": [0, 4.5], "nice": false, "zero": false},
                  "axis": {"values": [0,0.5,1,1.5,2,2.5,3,3.5,4,4.5], "tickCount": 10, "format": ".1f", "labelOverlap": false, "grid": true, "gridColor": "#a9a9a9", "gridWidth": 1.3, "gridOpacity": 1,
                    "tickSize": 4, "tickColor": "#999999", "domainColor": "#999999", "labelColor": "#666666", "labelFontSize": 10, "labelPadding": 3,
                    "title": "m/s", "titleAngle": 0, "titleAlign": "right", "titleBaseline": "middle", "titlePadding": 11, "titleFontWeight": "bold", "titleFontSize": 10, "titleColor": "#222222"}},
                "color": {"field": "series", "type": "nominal", "scale": {"domain": ["SF", "IF", "SM", "IM", "SR", "IR"], "range": ["#4d4d4d", "#525252", "#9c9c9c", "#474747", "#8f8f8f", "#a3a3a3"]}, "legend": null}
              }
            },
            {
              "data": {"name": "av_wob"},
              "transform": [{"fold": ["SF", "IF", "SM", "IM", "SR", "IR"], "as": ["series", "v"]}],
              "mark": {"type": "point", "filled": true, "size": 64, "opacity": 1, "strokeWidth": 1.3},
              "encoding": {
                "x": {"field": "m", "type": "quantitative"},
                "y": {"field": "v", "type": "quantitative"},
                "shape": {"field": "series", "type": "nominal", "scale": {"domain": ["SF", "IF", "SM", "IM", "SR", "IR"], "range": ["M0,-0.85L0.85,0L0,0.85L-0.85,0Z", "M-1.05,-1.05L1.05,-1.05L1.05,1.05L-1.05,1.05Z", "M0,-1.05L1.05,0.8L-1.05,0.8Z", "M-1,-1L1,1M-1,1L1,-1", "M-1,-1L1,1M-1,1L1,-1M0,-1.25L0,1.25", "M1.05,0A1.05,1.05 0 1,1 -1.05,0A1.05,1.05 0 1,1 1.05,0Z"]}, "legend": null},
                "fill": {"field": "series", "type": "nominal", "scale": {"domain": ["SF", "IF", "SM", "IM", "SR", "IR"], "range": ["#4d4d4d", "#555555", "#a5a5a5", "#b5b5b5", "#b5b5b5", "#a3a3a3"]}, "legend": null},
                "stroke": {"field": "series", "type": "nominal", "scale": {"domain": ["SF", "IF", "SM", "IM", "SR", "IR"], "range": ["#4d4d4d", "#555555", "#a5a5a5", "#b5b5b5", "#b5b5b5", "#a3a3a3"]}, "legend": null}
              }
            },
            {
              "data": {"values": []},
              "mark": {"type": "point", "filled": true, "size": 64, "opacity": 1},
              "encoding": {
                "shape": {"field": "series", "type": "nominal", "scale": {"domain": ["SF", "IF", "SM", "IM", "SR", "IR"], "range": ["M-3.4,0L3.4,0M0,-0.85L0.85,0L0,0.85L-0.85,0Z", "M-3.4,0L3.4,0M-1.05,-1.05L1.05,-1.05L1.05,1.05L-1.05,1.05Z", "M-3.4,0L3.4,0M0,-1.05L1.05,0.8L-1.05,0.8Z", "M-3.4,0L3.4,0M-1,-1L1,1M-1,1L1,-1", "M-3.4,0L3.4,0M-1,-1L1,1M-1,1L1,-1M0,-1.25L0,1.25", "M-3.4,0L3.4,0M1.05,0A1.05,1.05 0 1,1 -1.05,0A1.05,1.05 0 1,1 1.05,0Z"]},
                  "legend": {"title": null, "orient": "none", "legendX": 436, "legendY": 62.5, "padding": 0, "symbolSize": 64, "symbolStrokeWidth": 2, "labelFont": "Liberation Serif", "labelFontSize": 11, "labelColor": "#444444", "labelOffset": 11, "rowPadding": 4.4}},
                "fill": {"field": "series", "type": "nominal", "scale": {"domain": ["SF", "IF", "SM", "IM", "SR", "IR"], "range": ["#4d4d4d", "#525252", "#a0a0a0", "#474747", "#959595", "#a3a3a3"]}},
                "stroke": {"field": "series", "type": "nominal", "scale": {"domain": ["SF", "IF", "SM", "IM", "SR", "IR"], "range": ["#4d4d4d", "#525252", "#a0a0a0", "#474747", "#959595", "#a3a3a3"]}}
              }
            },
            {"data": {"values": [{}]}, "mark": {"type": "rule", "color": "#4a4a4a", "strokeWidth": 3}, "encoding": {"x": {"datum": 97.5, "type": "quantitative"}}},
            {"data": {"values": [{}]}, "mark": {"type": "rect", "color": "#9d9d9d", "stroke": "#6e6e6e", "strokeWidth": 2, "clip": false}, "encoding": {"x": {"datum": -26.46, "type": "quantitative"}, "x2": {"datum": 203.98}, "y": {"datum": 6.654, "type": "quantitative"}, "y2": {"datum": 5.41}}},
            {"data": {"values": [{}]}, "mark": {"type": "text", "text": "Without Water Bath (WoB)", "font": "Liberation Serif", "fontSize": 36, "fontWeight": "bold", "color": "#111111", "align": "center", "baseline": "middle", "clip": false}, "encoding": {"x": {"datum": 83.9, "type": "quantitative"}, "y": {"datum": 5.984, "type": "quantitative"}}},
            {"data": {"values": [{}]}, "mark": {"type": "text", "text": "Air Ventilation", "font": "Liberation Serif", "fontSize": 17, "fontWeight": "bold", "color": "#000000", "align": "center", "baseline": "alphabetic", "clip": false}, "encoding": {"x": {"datum": 87.5, "type": "quantitative"}, "y": {"datum": 4.69, "type": "quantitative"}}},
            {"data": {"values": [{}]}, "mark": {"type": "rule", "color": "#b0b0b0", "strokeWidth": 2.5, "clip": false}, "encoding": {"x": {"datum": -27.09, "type": "quantitative"}, "y": {"datum": 5.41, "type": "quantitative"}, "y2": {"datum": -1.125}}},
            {"data": {"values": [{}]}, "mark": {"type": "rule", "color": "#d0d0d0", "strokeWidth": 1.5, "clip": false}, "encoding": {"x": {"datum": -27.09, "type": "quantitative"}, "x2": {"datum": 203.98}, "y": {"datum": -1.125, "type": "quantitative"}}},
            {"data": {"values": [{}]}, "mark": {"type": "text", "text": "Transport", "font": "Liberation Serif", "fontSize": 22, "color": "#333333", "align": "center", "baseline": "alphabetic"}, "encoding": {"x": {"datum": 70.1, "type": "quantitative"}, "y": {"datum": 4.02, "type": "quantitative"}}},
            {"data": {"values": [{}]}, "mark": {"type": "text", "text": "Holding time", "font": "Liberation Serif", "fontSize": 22, "color": "#333333", "align": "center", "baseline": "alphabetic"}, "encoding": {"x": {"datum": 135.1, "type": "quantitative"}, "y": {"datum": 4.02, "type": "quantitative"}}}
          ]
        },
        {
          "width": 405, "height": 194,
          "resolve": {"scale": {"shape": "independent", "fill": "independent", "stroke": "independent"}},
          "layer": [
            {
              "data": {"name": "hi_wob"},
              "transform": [{"fold": ["SF", "IF", "SM", "IM", "SR", "IR"], "as": ["series", "v"]}],
              "mark": {"type": "line", "strokeWidth": 2.5},
              "encoding": {
                "x": {"field": "m", "type": "quantitative", "scale": {"domain": [2.5, 172.5], "nice": false, "zero": false},
                  "axis": {"values": [2.5,7.5,12.5,17.5,22.5,27.5,32.5,37.5,42.5,47.5,52.5,57.5,62.5,67.5,72.5,77.5,82.5,87.5,92.5,97.5,102.5,107.5,112.5,117.5,122.5,127.5,132.5,137.5,142.5,147.5,152.5,157.5,162.5,167.5,172.5], "tickCount": 35,
                    "labelExpr": "(datum.value - 2.5) % 25 === 0 && datum.value < 170 ? format(datum.value + 2.5, 'd') : ''",
                    "labelOffset": 6, "labelOverlap": false, "labelFlush": false, "grid": false, "tickSize": 4, "tickColor": "#999999", "domainColor": "#999999",
                    "labelColor": "#666666", "labelFontSize": 10, "labelPadding": 3, "title": "Minutes", "titleFontWeight": "bold", "titleFontSize": 10, "titleColor": "#222222", "titlePadding": 9}},
                "y": {"field": "v", "type": "quantitative", "scale": {"domain": [30, 57], "nice": false, "zero": false},
                  "axis": {"values": [30,33,36,39,42,45,48,51,54,57], "tickCount": 10, "format": ".1f", "labelOverlap": false, "grid": true, "gridColor": "#a9a9a9", "gridWidth": 1.3, "gridOpacity": 1,
                    "tickSize": 4, "tickColor": "#999999", "domainColor": "#999999", "labelColor": "#666666", "labelFontSize": 10, "labelPadding": 3,
                    "title": "°C", "titleAngle": 0, "titleAlign": "right", "titleBaseline": "middle", "titlePadding": 13, "titleFontWeight": "bold", "titleFontSize": 11, "titleColor": "#222222"}},
                "color": {"field": "series", "type": "nominal", "scale": {"domain": ["SF", "IF", "SM", "IM", "SR", "IR"], "range": ["#4d4d4d", "#525252", "#9c9c9c", "#474747", "#8f8f8f", "#a3a3a3"]}, "legend": null}
              }
            },
            {
              "data": {"name": "hi_wob"},
              "transform": [{"fold": ["SF", "IF", "SM", "IM", "SR", "IR"], "as": ["series", "v"]}],
              "mark": {"type": "point", "filled": true, "size": 64, "opacity": 1, "strokeWidth": 1.3},
              "encoding": {
                "x": {"field": "m", "type": "quantitative"},
                "y": {"field": "v", "type": "quantitative"},
                "shape": {"field": "series", "type": "nominal", "scale": {"domain": ["SF", "IF", "SM", "IM", "SR", "IR"], "range": ["M0,-0.85L0.85,0L0,0.85L-0.85,0Z", "M-1.05,-1.05L1.05,-1.05L1.05,1.05L-1.05,1.05Z", "M0,-1.05L1.05,0.8L-1.05,0.8Z", "M-1,-1L1,1M-1,1L1,-1", "M-1,-1L1,1M-1,1L1,-1M0,-1.25L0,1.25", "M1.05,0A1.05,1.05 0 1,1 -1.05,0A1.05,1.05 0 1,1 1.05,0Z"]}, "legend": null},
                "fill": {"field": "series", "type": "nominal", "scale": {"domain": ["SF", "IF", "SM", "IM", "SR", "IR"], "range": ["#4d4d4d", "#555555", "#a5a5a5", "#b5b5b5", "#b5b5b5", "#a3a3a3"]}, "legend": null},
                "stroke": {"field": "series", "type": "nominal", "scale": {"domain": ["SF", "IF", "SM", "IM", "SR", "IR"], "range": ["#4d4d4d", "#555555", "#a5a5a5", "#b5b5b5", "#b5b5b5", "#a3a3a3"]}, "legend": null}
              }
            },
            {
              "data": {"values": []},
              "mark": {"type": "point", "filled": true, "size": 64, "opacity": 1},
              "encoding": {
                "shape": {"field": "series", "type": "nominal", "scale": {"domain": ["SF", "IF", "SM", "IM", "SR", "IR"], "range": ["M-3.4,0L3.4,0M0,-0.85L0.85,0L0,0.85L-0.85,0Z", "M-3.4,0L3.4,0M-1.05,-1.05L1.05,-1.05L1.05,1.05L-1.05,1.05Z", "M-3.4,0L3.4,0M0,-1.05L1.05,0.8L-1.05,0.8Z", "M-3.4,0L3.4,0M-1,-1L1,1M-1,1L1,-1", "M-3.4,0L3.4,0M-1,-1L1,1M-1,1L1,-1M0,-1.25L0,1.25", "M-3.4,0L3.4,0M1.05,0A1.05,1.05 0 1,1 -1.05,0A1.05,1.05 0 1,1 1.05,0Z"]},
                  "legend": {"title": null, "orient": "none", "legendX": 436, "legendY": 69.5, "padding": 0, "symbolSize": 64, "symbolStrokeWidth": 2, "labelFont": "Liberation Serif", "labelFontSize": 11, "labelColor": "#444444", "labelOffset": 11, "rowPadding": 4.3}},
                "fill": {"field": "series", "type": "nominal", "scale": {"domain": ["SF", "IF", "SM", "IM", "SR", "IR"], "range": ["#4d4d4d", "#525252", "#a0a0a0", "#474747", "#959595", "#a3a3a3"]}},
                "stroke": {"field": "series", "type": "nominal", "scale": {"domain": ["SF", "IF", "SM", "IM", "SR", "IR"], "range": ["#4d4d4d", "#525252", "#a0a0a0", "#474747", "#959595", "#a3a3a3"]}}
              }
            },
            {"data": {"values": [{}]}, "mark": {"type": "rule", "color": "#4a4a4a", "strokeWidth": 3}, "encoding": {"x": {"datum": 92.5, "type": "quantitative"}}},
            {"data": {"values": [{}]}, "mark": {"type": "text", "text": "Heat Index", "font": "Liberation Serif", "fontSize": 17, "fontWeight": "bold", "color": "#000000", "align": "center", "baseline": "alphabetic", "clip": false}, "encoding": {"x": {"datum": 87.5, "type": "quantitative"}, "y": {"datum": 57.28, "type": "quantitative"}}},
            {"data": {"values": [{}]}, "mark": {"type": "rule", "color": "#b0b0b0", "strokeWidth": 2.5, "clip": false}, "encoding": {"x": {"datum": -27.09, "type": "quantitative"}, "y": {"datum": 62.0, "type": "quantitative"}, "y2": {"datum": 22.7}}},
            {"data": {"values": [{}]}, "mark": {"type": "text", "text": "Transport", "font": "Liberation Serif", "fontSize": 22, "color": "#333333", "align": "center", "baseline": "alphabetic"}, "encoding": {"x": {"datum": 45.9, "type": "quantitative"}, "y": {"datum": 53.8, "type": "quantitative"}}},
            {"data": {"values": [{}]}, "mark": {"type": "text", "text": "Holding time", "font": "Liberation Serif", "fontSize": 22, "color": "#333333", "align": "center", "baseline": "alphabetic"}, "encoding": {"x": {"datum": 149.6, "type": "quantitative"}, "y": {"datum": 54.2, "type": "quantitative"}}}
          ]
        }
      ],
      "columns": 1, "align": "none", "spacing": 0
    }
  ],
  "columns": 2, "align": "none", "spacing": 2
}
